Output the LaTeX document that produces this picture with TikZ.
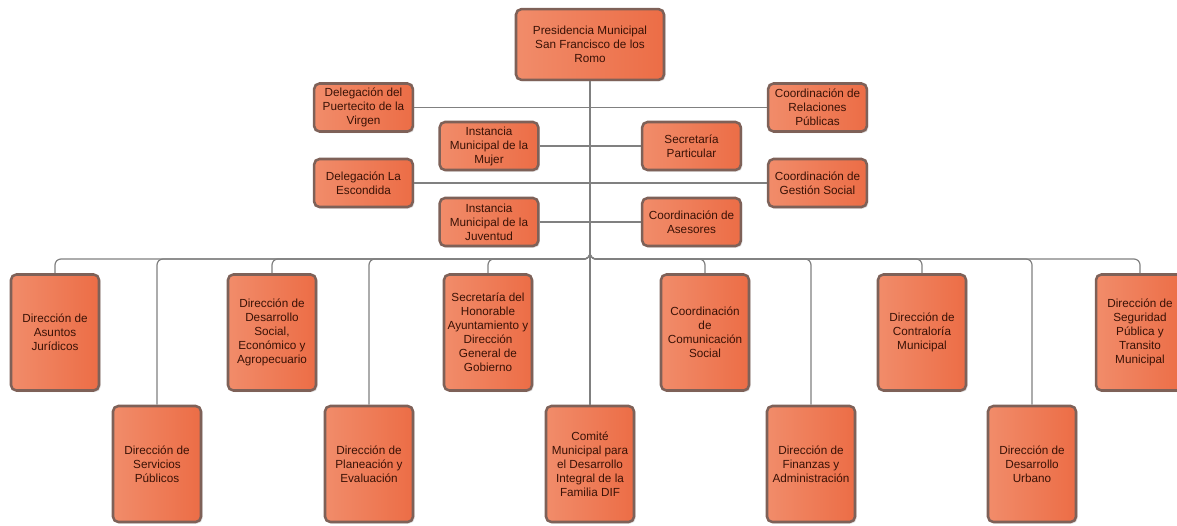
\documentclass[tikz,border=0pt]{standalone}
\usepackage{fontspec}
\setmainfont{Liberation Sans}
\usepackage{xcolor}
\usepackage{tikz}
\usetikzlibrary{calc}
\usetikzlibrary{shadows}
\definecolor{unitlight}{HTML}{F18C6A}
\definecolor{unitdark}{HTML}{EC6D46}
\definecolor{unitedge}{HTML}{7E6158}
\definecolor{unittext}{HTML}{3A1206}
\definecolor{linkgray}{HTML}{808080}
\tikzstyle{unit} = [rectangle, rounded corners=4pt, draw=unitedge, line width=1.9pt, left color=unitlight, right color=unitdark, text=unittext, align=center, inner sep=0pt, font=\fontsize{8.8}{10.5}\selectfont, drop shadow={shadow xshift=1.2pt, shadow yshift=-1.2pt, opacity=0.25}]
\tikzstyle{head} = [unit, minimum width=111pt, minimum height=53pt]
\tikzstyle{staff} = [unit, minimum width=74pt, minimum height=36pt]
\tikzstyle{dept} = [unit, minimum width=66pt, minimum height=87pt]
\tikzstyle{link} = [-, draw=linkgray, line width=0.9pt, rounded corners=4.5pt]

\begin{document}
\begin{tikzpicture}[x=0.75pt, y=-0.75pt]
\useasboundingbox (0, 0) rectangle (1177, 525);
\node [head] (pres) at (590, 44.5) {Presidencia Municipal\\San Francisco de los\\Romo};
\node [staff] (deleg1) at (363.5, 107.5) {Delegación del\\Puertecito de la\\Virgen};
\node [staff] (relpub) at (817.5, 107.5) {Coordinación de\\Relaciones\\Públicas};
\node [staff] (mujer) at (489, 146) {Instancia\\Municipal de la\\Mujer};
\node [staff] (secpart) at (691.5, 146) {Secretaría\\Particular};
\node [staff] (deleg2) at (363.5, 183) {Delegación La\\Escondida};
\node [staff] (gestion) at (817.5, 183) {Coordinación de\\Gestión Social};
\node [staff] (juventud) at (489, 222) {Instancia\\Municipal de la\\Juventud};
\node [staff] (asesores) at (691.5, 222) {Coordinación de\\Asesores};
\node [dept] (asuntos) at (55, 332.5) {Dirección de\\Asuntos\\Jurídicos};
\node [dept] (servicios) at (157, 464) {Dirección de\\Servicios\\Públicos};
\node [dept] (desarrollo) at (272, 332.5) {Dirección de\\Desarrollo\\Social,\\Económico y\\Agropecuario};
\node [dept] (planeacion) at (369, 464) {Dirección de\\Planeación y\\Evaluación};
\node [dept] (secretaria) at (488, 332.5) {Secretaría del\\Honorable\\Ayuntamiento y\\Dirección\\General de\\Gobierno};
\node [dept] (comite) at (590, 464) {Comité\\Municipal para\\el Desarrollo\\Integral de la\\Familia DIF};
\node [dept] (comunicacion) at (705, 332.5) {Coordinación\\de\\Comunicación\\Social};
\node [dept] (finanzas) at (811, 464) {Dirección de\\Finanzas y\\Administración};
\node [dept] (contraloria) at (922, 332.5) {Dirección de\\Contraloría\\Municipal};
\node [dept] (urbano) at (1032, 464) {Dirección de\\Desarrollo\\Urbano};
\node [dept] (seguridad) at (1140, 332.5) {Dirección de\\Seguridad\\Pública y\\Transito\\Municipal};
\coordinate (bus) at (590, 259);
\draw [link] (pres) to (comite);
\draw [link] (deleg1) to (relpub);
\draw [link] (mujer) to (secpart);
\draw [link] (deleg2) to (gestion);
\draw [link] (juventud) to (asesores);
\foreach \d in {asuntos, servicios, desarrollo, planeacion, secretaria, comunicacion, finanzas, contraloria, urbano, seguridad}
  \draw [link] (pres.south) -- (bus) -| (\d.north);
\end{tikzpicture}
\end{document}
